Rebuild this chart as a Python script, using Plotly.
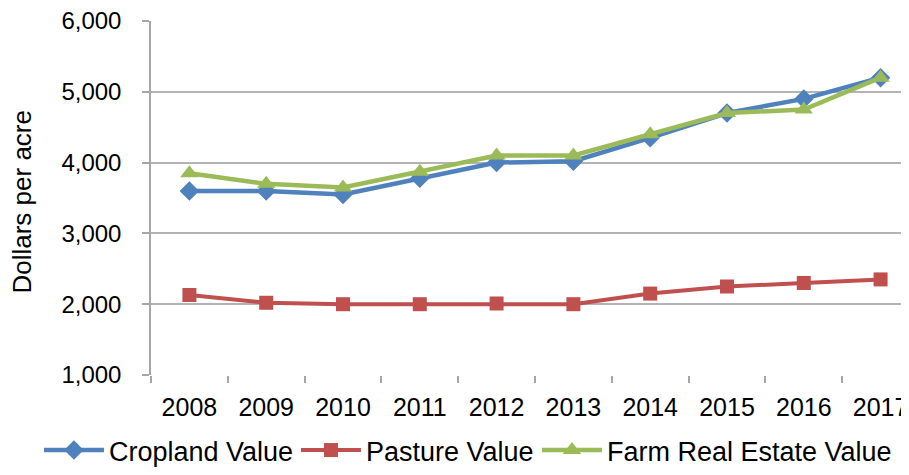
import plotly.graph_objects as go

years = ["2008", "2009", "2010", "2011", "2012", "2013", "2014", "2015", "2016", "2017"]
cropland = [3600, 3600, 3550, 3780, 4000, 4020, 4350, 4700, 4900, 5200]
pasture = [2130, 2020, 2000, 2000, 2010, 2000, 2150, 2250, 2300, 2350]
farm_real_estate = [3850, 3700, 3650, 3870, 4100, 4100, 4400, 4700, 4750, 5200]
y_ticks = [1000, 2000, 3000, 4000, 5000, 6000]

FONT = "Liberation Sans, Arial, sans-serif"

fig = go.Figure()
fig.add_trace(go.Scatter(x=years, y=cropland, name="Cropland Value", mode="lines+markers",
                         line=dict(color="#4F81BD", width=4.5), legendwidth=182,
                         marker=dict(symbol="diamond", size=15, color="#4F81BD")))
fig.add_trace(go.Scatter(x=years, y=pasture, name="Pasture Value", mode="lines+markers",
                         line=dict(color="#C0504D", width=4), legendwidth=166,
                         marker=dict(symbol="square", size=14, color="#C0504D")))
fig.add_trace(go.Scatter(x=years, y=farm_real_estate, name="Farm Real Estate Value", mode="lines+markers",
                         line=dict(color="#9BBB59", width=4.5),
                         marker=dict(symbol="triangle-up", size=16, color="#9BBB59")))

fig.update_layout(
    width=901, height=467,
    margin=dict(l=143, r=0, t=13, b=100, autoexpand=False),
    plot_bgcolor="white", paper_bgcolor="white",
    font=dict(family=FONT, size=25, color="black"),
    showlegend=True,
    legend=dict(orientation="h", xref="paper", yref="paper",
                x=-0.1478, xanchor="left", y=-0.2825, yanchor="bottom",
                font=dict(size=27), tracegroupgap=0, itemwidth=60,
                bgcolor="rgba(0,0,0,0)"),
    annotations=[dict(text="Dollars per acre", textangle=-90, xref="paper", yref="paper",
                      x=0, y=0.49, xanchor="center", yanchor="middle", xshift=-129,
                      showarrow=False, font=dict(size=26))],
)
fig.update_xaxes(type="category", range=[-0.5, 9.37], tickson="boundaries",
                 ticks="outside", ticklen=7, tickcolor="#a6a6a6", tickwidth=1.5,
                 showgrid=False, showline=False, zeroline=False, automargin=False,
                 ticklabeloverflow="allow",
                 tickfont=dict(size=25), ticklabelstandoff=15)
fig.update_yaxes(range=[1000, 6000], tickvals=y_ticks, tickformat=",d",
                 ticks="outside", ticklen=7, tickcolor="#a6a6a6", tickwidth=1.5,
                 showgrid=True, gridcolor="#b3b3b3", gridwidth=1.5, automargin=False,
                 showline=True, linecolor="#a6a6a6", linewidth=1.5, zeroline=False,
                 ticklabeloverflow="allow",
                 tickfont=dict(size=24), ticklabelstandoff=16)

fig.write_html("out.html")
